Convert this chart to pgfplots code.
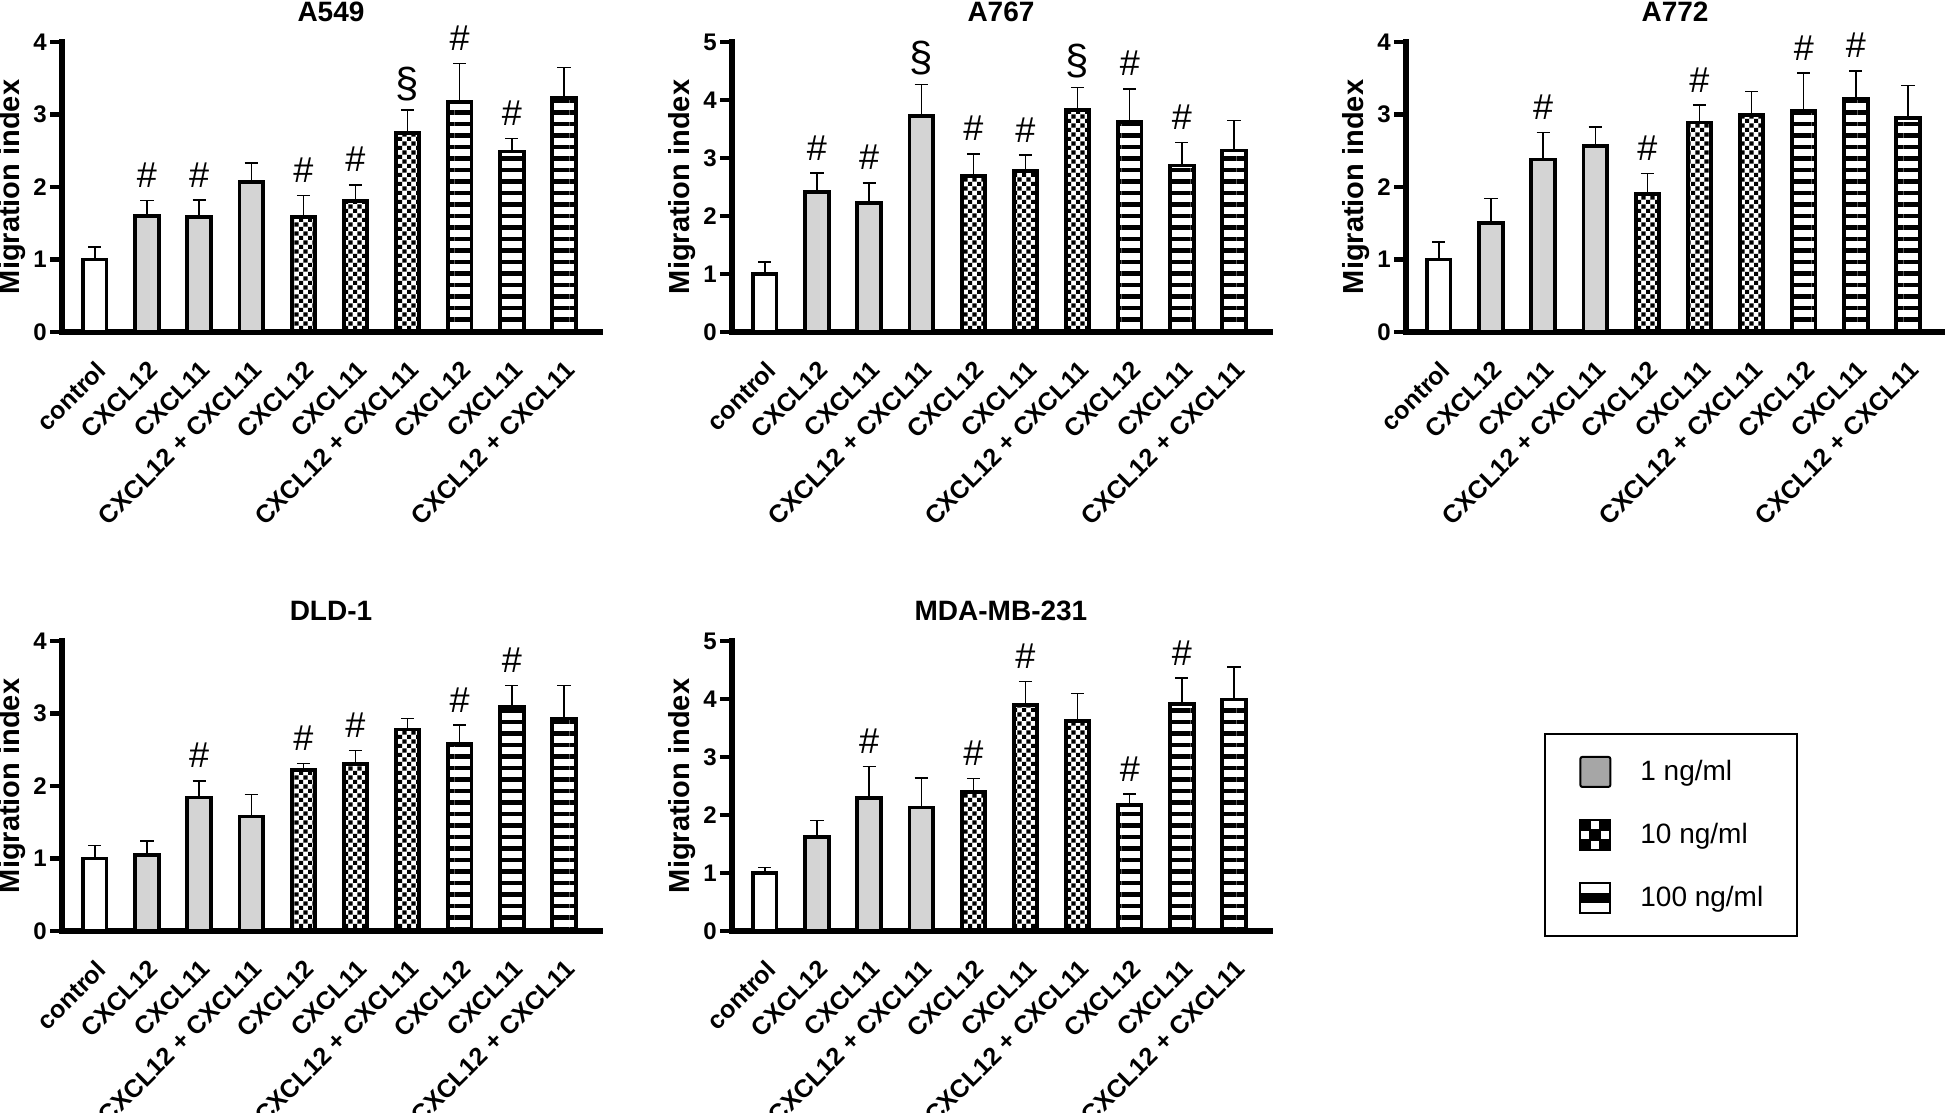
\documentclass[border=0pt]{standalone}
\usepackage{fontspec}
\setmainfont{Liberation Sans}
\usepackage{pgfplots}
\pgfplotsset{compat=1.18}
\usepackage{pgfplotstable}
\usetikzlibrary{patterns,patterns.meta}

% x = bar position, y = mean, e = error (up), a = mark (n none, h #, s section)
\pgfplotstableread{
x y e a
0 1.00 0.17 n
1 1.60 0.21 h
2 1.59 0.23 h
3 2.07 0.26 n
4 1.59 0.29 h
5 1.81 0.22 h
6 2.74 0.32 s
7 3.17 0.53 h
8 2.49 0.18 h
9 3.23 0.42 n
}\tA
\pgfplotstableread{
x y e a
0 1.00 0.21 n
1 2.42 0.32 h
2 2.22 0.35 h
3 3.72 0.55 s
4 2.69 0.38 h
5 2.77 0.28 h
6 3.83 0.39 s
7 3.62 0.57 h
8 2.87 0.40 h
9 3.13 0.52 n
}\tB
\pgfplotstableread{
x y e a
0 1.00 0.24 n
1 1.50 0.34 n
2 2.38 0.37 h
3 2.56 0.27 n
4 1.90 0.29 h
5 2.89 0.24 h
6 2.99 0.33 n
7 3.05 0.52 h
8 3.22 0.38 h
9 2.95 0.45 n
}\tC
\pgfplotstableread{
x y e a
0 1.00 0.18 n
1 1.05 0.19 n
2 1.84 0.23 h
3 1.58 0.30 n
4 2.22 0.09 h
5 2.30 0.19 h
6 2.78 0.15 n
7 2.58 0.26 h
8 3.09 0.30 h
9 2.93 0.46 n
}\tD
\pgfplotstableread{
x y e a
0 1.00 0.09 n
1 1.62 0.29 n
2 2.29 0.55 h
3 2.13 0.51 n
4 2.39 0.24 h
5 3.89 0.41 h
6 3.62 0.47 n
7 2.17 0.19 h
8 3.92 0.44 h
9 3.99 0.56 n
}\tE

\newcommand\symn{}
\newcommand\symh{\fontsize{18}{18}\selectfont\#}
\newcommand\syms{\fontsize{21}{21}\selectfont§}

% checkerboard for the 10 ng/ml bars
\pgfdeclarepatternformonly{checks}{\pgfpointorigin}{\pgfqpoint{4.4pt}{4.4pt}}{\pgfqpoint{4.4pt}{4.4pt}}{%
  \pgfpathrectangle{\pgfpointorigin}{\pgfqpoint{2.15pt}{2.15pt}}%
  \pgfpathrectangle{\pgfqpoint{2.2pt}{2.2pt}}{\pgfqpoint{2.15pt}{2.15pt}}%
  \pgfusepath{fill}}

\pgfplotsset{
  panel/.style={
    scale only axis, width=269pt, height=145pt,
    xmin=-0.63, xmax=9.69, ymin=0,
    axis lines=left,
    axis line style={-, line width=2.6pt, line cap=rect, black},
    xtick={0,...,9},
    xticklabels={control, CXCL12, CXCL11, CXCL12 + CXCL11, CXCL12, CXCL11,
      CXCL12 + CXCL11, CXCL12, CXCL11, CXCL12 + CXCL11},
    xtick style={draw=none},
    ytick style={line width=2.4pt, black},
    tick align=outside, major tick length=6pt,
    x tick label style={yshift=-7.5pt, rotate=45, anchor=north east, inner sep=0pt,
      font=\bfseries\fontsize{12.5}{12.5}\selectfont},
    y tick label style={inner sep=1.5pt, font=\bfseries\fontsize{12}{12}\selectfont},
    /pgf/number format/assume math mode=true,
    ylabel={Migration index},
    ylabel style={at={(axis description cs:-0.079,0.5)}, anchor=base,
      font=\bfseries\fontsize{14.5}{14.5}\selectfont},
    every axis title/.style={at={(axis description cs:0.5,1)}, anchor=center,
      yshift=15pt, font=\bfseries\fontsize{14}{14}\selectfont},
    clip=false,
  },
  barbase/.style={
    ybar, bar width=0.45, bar shift=0pt, draw=black, line width=1.9pt, forget plot,
    /pgfplots/error bars/y dir=plus,
    /pgfplots/error bars/y explicit,
    /pgfplots/error bars/error bar style={line width=0.7pt, black, solid},
    /pgfplots/error bars/error mark options={rotate=90, mark size=3.3pt, line width=0.7pt, black},
  },
  annot/.style={
    only marks, mark=none, forget plot,
    point meta=explicit symbolic,
    nodes near coords={\csname sym\pgfplotspointmeta\endcsname},
    nodes near coords style={anchor=base, yshift=6.5pt, inner sep=0pt, black},
  },
}

\newcommand\bars[1]{%
  \addplot[barbase, fill=white, restrict x to domain=-0.5:0.5]
    table[x=x, y=y, y error=e] {#1};
  \addplot[barbase, fill=black!17, restrict x to domain=0.5:3.5]
    table[x=x, y=y, y error=e] {#1};
  \addplot[barbase, pattern=checks, restrict x to domain=3.5:6.5]
    table[x=x, y=y, y error=e] {#1};
  \addplot[barbase, pattern={Lines[angle=0, distance=5.75pt, line width=2.2pt]},
    restrict x to domain=6.5:9.5]
    table[x=x, y=y, y error=e] {#1};
  \addplot[annot] table[x=x, y expr=\thisrow{y}+\thisrow{e}, meta=a] {#1};
}

\begin{document}
\begin{tikzpicture}
\useasboundingbox (0,0) rectangle (972.5pt,556.5pt);

\begin{axis}[panel, at={(31pt,390.5pt)}, anchor=south west,
  ymax=4, ytick={0,...,4}, title={A549}]
  \bars{\tA}
\end{axis}

\begin{axis}[panel, at={(366pt,390.5pt)}, anchor=south west,
  ymax=5, ytick={0,...,5}, title={A767}]
  \bars{\tB}
\end{axis}

\begin{axis}[panel, at={(703pt,390.5pt)}, anchor=south west,
  ymax=4, ytick={0,...,4}, title={A772}]
  \bars{\tC}
\end{axis}

\begin{axis}[panel, at={(31pt,91pt)}, anchor=south west,
  ymax=4, ytick={0,...,4}, title={DLD-1}]
  \bars{\tD}
\end{axis}

\begin{axis}[panel, at={(366pt,91pt)}, anchor=south west,
  ymax=5, ytick={0,...,5}, title={MDA-MB-231},
  legend cell align=left,
  legend style={at={(axis description cs:1.51,0.683)}, anchor=north west,
    draw=black, line width=1pt, fill=white,
    inner xsep=17pt, inner ysep=11pt, row sep=15.5pt, column sep=14.5pt,
    font=\fontsize{14}{14}\selectfont, nodes={inner sep=0pt}, cells={anchor=west}}]
  \addlegendimage{legend image code/.code={
    \draw[draw=black, line width=1pt, fill=black!35, rounded corners=1pt]
      (0pt,-7.5pt) rectangle (15pt,7.5pt);}}
  \addlegendentry{1 ng/ml}
  \addlegendimage{legend image code/.code={
    \fill[black] (0pt,-7.5pt) rectangle (5pt,-2.5pt)
      (10pt,-7.5pt) rectangle (15pt,-2.5pt)
      (5pt,-2.5pt) rectangle (10pt,2.5pt)
      (0pt,2.5pt) rectangle (5pt,7.5pt)
      (10pt,2.5pt) rectangle (15pt,7.5pt);
    \draw[draw=black, line width=1pt] (0pt,-7.5pt) rectangle (15pt,7.5pt);}}
  \addlegendentry{10 ng/ml}
  \addlegendimage{legend image code/.code={
    \fill[black] (0pt,-2pt) rectangle (15pt,2pt);
    \draw[draw=black, line width=1pt] (0pt,-7.5pt) rectangle (15pt,7.5pt);}}
  \addlegendentry{100 ng/ml}
  \bars{\tE}
\end{axis}
\end{tikzpicture}
\end{document}
